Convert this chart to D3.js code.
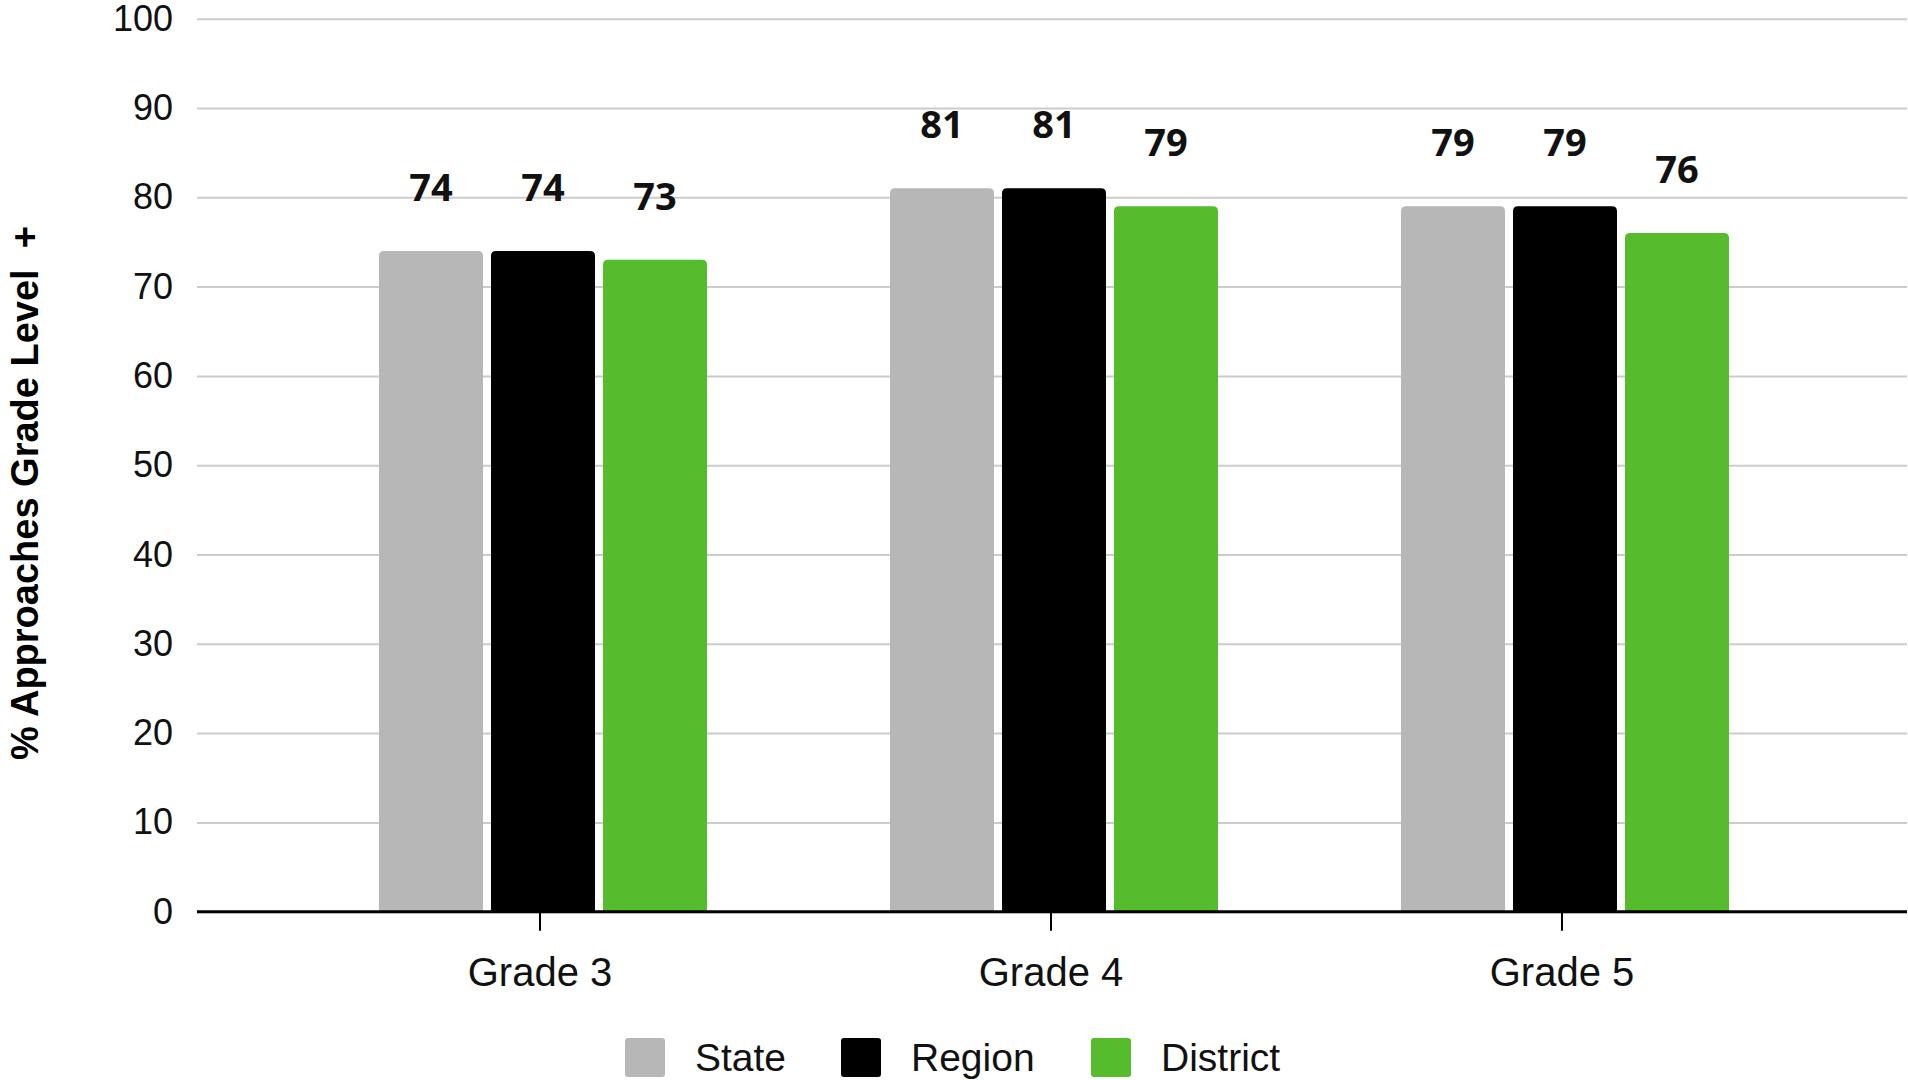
<!DOCTYPE html>
<html>
<head>
<meta charset="utf-8">
<script src="https://cdn.jsdelivr.net/npm/d3@7"></script>
<style>
  html, body { margin: 0; padding: 0; background: #ffffff; }
  svg { display: block; }
</style>
</head>
<body>
<svg id="chart" width="1908" height="1080"></svg>
<script>
// Grades on the x axis
const grades = ["Grade 3", "Grade 4", "Grade 5"];
// Series shown side by side in each grade
const seriesNames = ["State", "Region", "District"];
const seriesColors = ["#b7b7b7", "#000000", "#57bb2e"];
// Percent approaching grade level or above
const stateValues = [74, 81, 79];
const regionValues = [74, 81, 79];
const districtValues = [73, 79, 76];
// Y axis ticks
const yTicks = [0, 10, 20, 30, 40, 50, 60, 70, 80, 90, 100];
const yTitle = "% Approaches Grade Level\u00a0 +";

const seriesValues = [stateValues, regionValues, districtValues];
const rows = grades.map((g, i) => ({
  grade: g,
  values: seriesNames.map((s, j) => ({ series: s, color: seriesColors[j], value: seriesValues[j][i] }))
}));

const svg = d3.select("#chart");
const plotLeft = 197, plotRight = 1907, plotTop = 18.7, plotBottom = 911.7;

const y = d3.scaleLinear().domain([0, 100]).range([plotBottom, plotTop]);
const x0 = d3.scaleBand().domain(grades).range([287.5, 1820.5]).paddingInner(0).paddingOuter(0);
const x1 = d3.scaleBand().domain(seriesNames).range([-164, 164]).paddingInner(0.0714).paddingOuter(0);

// Gridlines and y tick labels
const yAxis = svg.append("g")
  .attr("transform", `translate(${plotLeft},0)`)
  .call(d3.axisLeft(y).tickValues(yTicks).tickSize(-(plotRight - plotLeft)).tickPadding(24));
yAxis.select(".domain").remove();
yAxis.selectAll(".tick line").attr("stroke", "#cccccc").attr("stroke-width", 2);
yAxis.selectAll(".tick text")
  .attr("fill", "#111111")
  .style("font-family", "'Liberation Sans', Arial, sans-serif")
  .style("font-size", "36px");

// Bars with rounded top corners
function barPath(x, w, yTop, yBase, r) {
  const rr = Math.min(r, (yBase - yTop) / 2, w / 2);
  return `M${x},${yBase}V${yTop + rr}Q${x},${yTop} ${x + rr},${yTop}H${x + w - rr}Q${x + w},${yTop} ${x + w},${yTop + rr}V${yBase}Z`;
}

const groups = svg.append("g").selectAll("g")
  .data(rows)
  .join("g")
  .attr("transform", d => `translate(${x0(d.grade) + x0.bandwidth() / 2},0)`);

groups.selectAll("path")
  .data(d => d.values)
  .join("path")
  .attr("fill", d => d.color)
  .attr("d", d => barPath(x1(d.series), x1.bandwidth(), y(d.value), y(0), 5));

// Value labels above bars
groups.selectAll("text")
  .data(d => d.values)
  .join("text")
  .attr("x", d => x1(d.series) + x1.bandwidth() / 2)
  .attr("y", d => y(d.value) - 50)
  .attr("text-anchor", "middle")
  .attr("fill", "#111111")
  .style("font-family", "'Noto Sans', 'Open Sans', sans-serif")
  .style("font-weight", "bold")
  .style("font-size", "38px")
  .text(d => d.value);

// X axis with tick marks and grade labels
const xAxis = svg.append("g")
  .attr("transform", `translate(-3,${plotBottom})`)
  .call(d3.axisBottom(x0).tickSize(19).tickPadding(27));
xAxis.select(".domain").remove();
xAxis.selectAll(".tick line").attr("stroke", "#000000").attr("stroke-width", 2);
xAxis.selectAll(".tick text")
  .attr("fill", "#111111")
  .style("font-family", "'Liberation Sans', Arial, sans-serif")
  .style("font-size", "40px");

// Baseline
svg.append("line")
  .attr("x1", plotLeft).attr("x2", plotRight)
  .attr("y1", y(0)).attr("y2", y(0))
  .attr("stroke", "#000000").attr("stroke-width", 3);

// Y axis title
svg.append("text")
  .attr("transform", "translate(38,493) rotate(-90)")
  .attr("text-anchor", "middle")
  .attr("fill", "#000000")
  .style("font-family", "'Liberation Sans', Arial, sans-serif")
  .style("font-weight", "bold")
  .style("font-size", "38px")
  .text(yTitle);

// Legend
const legendX = [625, 841, 1091];
const legend = svg.append("g").selectAll("g")
  .data(seriesNames)
  .join("g")
  .attr("transform", (d, i) => `translate(${legendX[i]},1038)`);
legend.append("rect")
  .attr("width", 40).attr("height", 39).attr("rx", 3)
  .attr("fill", (d, i) => seriesColors[i]);
legend.append("text")
  .attr("x", 70).attr("y", 33)
  .attr("fill", "#111111")
  .style("font-family", "'Liberation Sans', Arial, sans-serif")
  .style("font-size", "39px")
  .text(d => d);
</script>
</body>
</html>
